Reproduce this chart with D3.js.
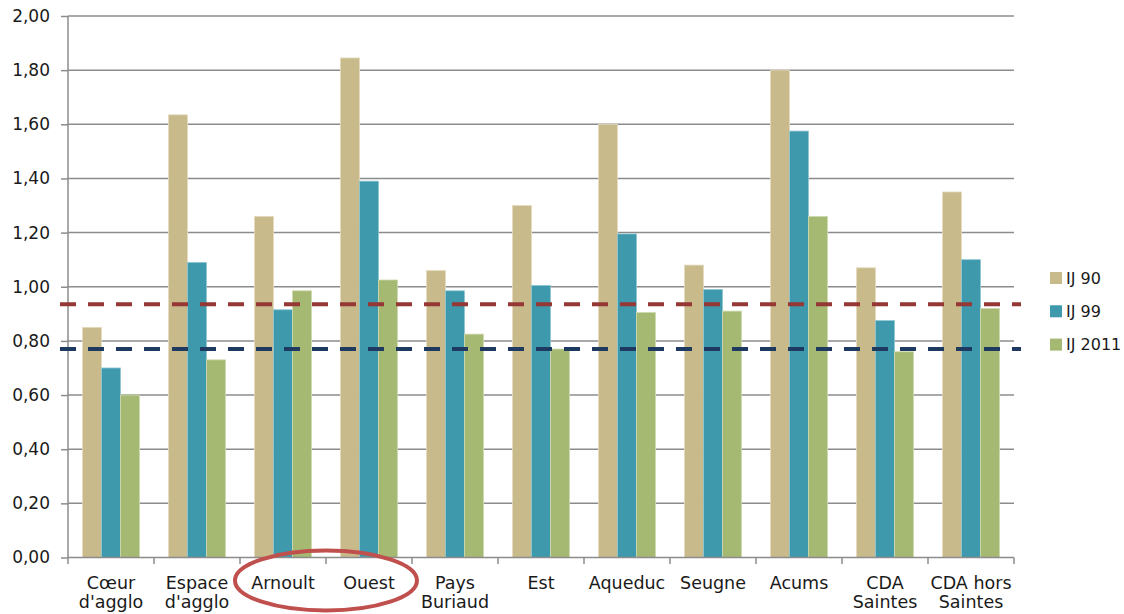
<!DOCTYPE html>
<html lang="fr">
<head>
<meta charset="UTF-8">
<title>IJ par secteur</title>
<script src="https://d3js.org/d3.v7.min.js"></script>
<style>
  body { margin: 0; background: #fff; }
  text { font-family: "DejaVu Sans", sans-serif; fill: #1a1a1a; }
</style>
</head>
<body>
<svg width="1124" height="614"></svg>
<script>
// categories and series values
const categories = ["Cœur\nd'agglo", "Espace\nd'agglo", "Arnoult", "Ouest", "Pays\nBuriaud",
                    "Est", "Aqueduc", "Seugne", "Acums", "CDA\nSaintes", "CDA hors\nSaintes"];
const seriesNames = ["IJ 90", "IJ 99", "IJ 2011"];
const ij90   = [0.85, 1.635, 1.26, 1.845, 1.06, 1.30, 1.60, 1.08, 1.80, 1.07, 1.35];
const ij99   = [0.70, 1.09, 0.915, 1.39, 0.985, 1.005, 1.195, 0.99, 1.575, 0.875, 1.10];
const ij2011 = [0.60, 0.73, 0.985, 1.025, 0.825, 0.77, 0.905, 0.91, 1.26, 0.76, 0.92];
const refValues = [0.935, 0.77];
const yTickValues = [0, 0.2, 0.4, 0.6, 0.8, 1.0, 1.2, 1.4, 1.6, 1.8, 2.0];

const seriesColors = ["#c8ba8b", "#3e99ad", "#a5b972"];
const seriesEdges  = ["#e4dbbf", "#8fc6d2", "#cfdab0"];
const refColors = ["#953735", "#1f3a60"];

const svg = d3.select("svg");
const margin = { top: 16, right: 110, bottom: 56.5, left: 68 };
const width = 1014 - margin.left;
const height = 557.5 - margin.top;

const g = svg.append("g")
    .attr("transform", `translate(${margin.left},${margin.top})`);

const x = d3.scaleBand().domain(d3.range(categories.length)).range([0, width]);
const xSub = d3.scaleBand().domain(d3.range(seriesNames.length)).range([14.5, 71.5]);
const y = d3.scaleLinear().domain([0, 2]).range([height, 0]);

const fmt = v => d3.format(".2f")(v).replace(".", ",");

// gridlines
g.selectAll("line.grid")
    .data(yTickValues.slice(1))
    .enter().append("line")
    .attr("class", "grid")
    .attr("x1", 0).attr("x2", width)
    .attr("y1", d => y(d)).attr("y2", d => y(d))
    .attr("stroke", "#8c8c8c")
    .attr("stroke-width", 1.5);

// bars
const allSeries = [ij90, ij99, ij2011];
allSeries.forEach((vals, s) => {
    g.selectAll(null)
        .data(vals)
        .enter().append("rect")
        .attr("x", (d, i) => x(i) + xSub(s))
        .attr("y", d => y(d))
        .attr("width", xSub.bandwidth())
        .attr("height", d => height - y(d))
        .attr("fill", seriesColors[s])
        .attr("stroke", seriesEdges[s])
        .attr("stroke-width", 0.8);
});

// y axis
const yAxis = g.append("g")
    .call(d3.axisLeft(y).tickValues(yTickValues).tickFormat(fmt)
        .tickSizeInner(7).tickSizeOuter(0).tickPadding(11));
yAxis.select(".domain").attr("stroke", "#8c8c8c").attr("stroke-width", 1.5)
    .attr("d", `M0,0V${height + 6.5}`);
yAxis.selectAll(".tick line").attr("stroke", "#8c8c8c").attr("stroke-width", 1.5);
yAxis.selectAll(".tick text").attr("font-size", 17).style("font-family", "DejaVu Sans").attr("fill", "#111");

// x axis line and boundary ticks
g.append("line")
    .attr("x1", 0).attr("x2", width)
    .attr("y1", height).attr("y2", height)
    .attr("stroke", "#8c8c8c").attr("stroke-width", 1.5);
g.selectAll("line.xtick")
    .data(d3.range(1, categories.length + 1))
    .enter().append("line")
    .attr("class", "xtick")
    .attr("x1", d => d * x.bandwidth()).attr("x2", d => d * x.bandwidth())
    .attr("y1", height).attr("y2", height + 6.5)
    .attr("stroke", "#8c8c8c").attr("stroke-width", 1.5);

// x labels
const xl = g.selectAll("text.xlab")
    .data(categories)
    .enter().append("text")
    .attr("class", "xlab")
    .attr("text-anchor", "middle")
    .attr("font-size", 17.5)
    .attr("transform", (d, i) => `translate(${x(i) + x.bandwidth() / 2},${height + 31})`);
xl.each(function (d) {
    d.split("\n").forEach((line, k) => {
        d3.select(this).append("tspan")
            .attr("x", 0).attr("dy", k === 0 ? 0 : 19)
            .text(line);
    });
});

// reference dashed lines
g.selectAll("line.ref")
    .data(refValues)
    .enter().append("line")
    .attr("class", "ref")
    .attr("x1", -8).attr("x2", width + 7)
    .attr("y1", d => y(d)).attr("y2", d => y(d))
    .attr("stroke", (d, i) => refColors[i])
    .attr("stroke-width", 4)
    .attr("stroke-dasharray", "16,12")
    .attr("stroke-dashoffset", 0);

// legend
const legend = svg.append("g").attr("transform", "translate(1050,272)");
seriesNames.forEach((name, i) => {
    const row = legend.append("g").attr("transform", `translate(0,${i * 33.3})`);
    row.append("rect").attr("width", 12).attr("height", 12).attr("fill", seriesColors[i]);
    row.append("text").attr("x", 16).attr("y", 6).attr("dy", "0.36em")
        .attr("font-size", 16).text(name);
});

// highlight ellipse around Arnoult / Ouest
g.append("ellipse")
    .attr("cx", x(3))
    .attr("cy", height + 23)
    .attr("rx", 91)
    .attr("ry", 30)
    .attr("fill", "none")
    .attr("stroke", "#c0504d")
    .attr("stroke-width", 4);
</script>
</body>
</html>
